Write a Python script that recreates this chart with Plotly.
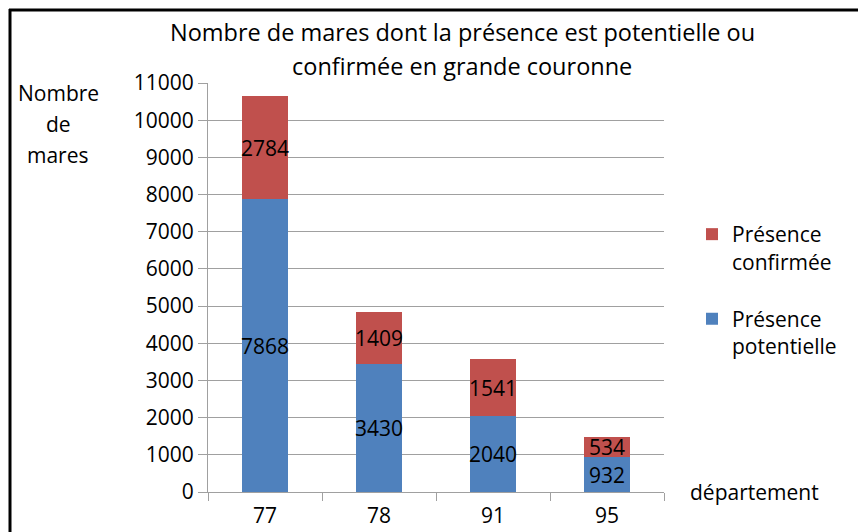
import plotly.graph_objects as go

departements = ["77", "78", "91", "95"]
potentielle = [7868, 3430, 2040, 932]
confirmee = [2784, 1409, 1541, 534]
title_lines = ["Nombre de mares dont la présence est potentielle ou",
               "confirmée en grande couronne"]
ytitle_lines = ["Nombre", "de", "mares"]

FONT = "Open Sans"
FS = 21
BLUE = "#4F81BD"
RED = "#C0504D"
GRID = "#A0A0A0"

fig = go.Figure()
fig.add_trace(go.Bar(
    x=departements, y=potentielle, name="Présence<br>potentielle",
    marker=dict(color=BLUE, line=dict(width=0)),
    text=[str(v) for v in potentielle], textposition="inside",
    insidetextanchor="middle", textangle=0,
    textfont=dict(family=FONT, size=FS, color="#000000"),
    legendgroup="p", legendrank=2,
))
fig.add_trace(go.Bar(
    x=departements, y=confirmee, name="Présence<br>confirmée",
    marker=dict(color=RED, line=dict(width=0)),
    text=[str(v) for v in confirmee], textposition="inside",
    insidetextanchor="middle", textangle=0,
    textfont=dict(family=FONT, size=FS, color="#000000"),
    legendgroup="c", legendrank=1,
))

W, H = 858, 532
L, R, T, B = 208, W - 664, 83, H - 492
pw, ph = W - L - R, H - T - B

def px(x):
    return (x - L) / pw

def py(y):
    return 1 - (y - T) / ph

annotations = []
for txt, yy in zip(title_lines, [32, 66]):
    annotations.append(dict(text=txt, xref="paper", yref="paper",
                            x=px(462), y=py(yy), xanchor="center", yanchor="middle",
                            showarrow=False,
                            font=dict(family=FONT, size=23.5, color="#000000")))
for txt, yy in zip(ytitle_lines, [93, 124, 155]):
    annotations.append(dict(text=txt, xref="paper", yref="paper",
                            x=px(58), y=py(yy), xanchor="center", yanchor="middle",
                            showarrow=False,
                            font=dict(family=FONT, size=FS, color="#000000")))
annotations.append(dict(text="département", xref="paper", yref="paper",
                        x=px(688), y=py(492), xanchor="left", yanchor="middle",
                        showarrow=False, font=dict(family=FONT, size=FS, color="#000000")))

fig.update_layout(
    width=W, height=H,
    margin=dict(l=L, r=R, t=T, b=B, pad=0, autoexpand=False),
    paper_bgcolor="white", plot_bgcolor="white",
    barmode="stack", bargap=0.6,
    font=dict(family=FONT, size=FS, color="#000000"),
    uniformtext=dict(minsize=FS, mode="show"),
    showlegend=True,
    legend=dict(
        x=px(692), y=py(214), xanchor="left", yanchor="top",
        traceorder="grouped", tracegroupgap=27,
        valign="top", bgcolor="rgba(0,0,0,0)",
        font=dict(family=FONT, size=FS, color="#000000"),
    ),
    xaxis=dict(
        type="category", showgrid=False, showline=True, linecolor=GRID, linewidth=1,
        ticks="outside", tickson="boundaries", ticklen=8, tickcolor=GRID,
        ticklabelstandoff=5, automargin=False,
        tickfont=dict(family=FONT, size=FS, color="#000000"),
    ),
    yaxis=dict(
        range=[0, 11000], dtick=1000, tickformat="d",
        showgrid=True, gridcolor=GRID, gridwidth=1,
        showline=True, linecolor=GRID, linewidth=1, zeroline=False,
        ticks="outside", ticklen=9, tickcolor=GRID, automargin=False,
        tickfont=dict(family=FONT, size=FS, color="#000000"),
    ),
    annotations=annotations,
    shapes=[
        dict(type="line", xref="paper", yref="paper",
             x0=px(10), x1=px(10), y0=py(9), y1=py(540),
             line=dict(color="#000000", width=3)),
        dict(type="line", xref="paper", yref="paper",
             x0=px(9), x1=px(870), y0=py(10), y1=py(10),
             line=dict(color="#000000", width=3)),
    ],
)

fig.write_html("out.html", config={"displayModeBar": False},
               post_script="document.body.style.margin='0';document.body.style.overflow='hidden';")
